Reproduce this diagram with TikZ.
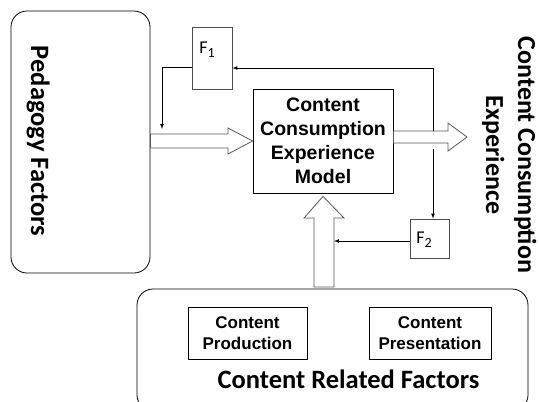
\documentclass[tikz,border=0pt]{standalone}
\usepackage{fontspec}
\setmainfont{Liberation Sans}
\newfontfamily\calibri{Carlito}
\usepackage{tikz}
\newcommand{\fsub}[1]{\raisebox{-4pt}{\fontsize{14}{14}\selectfont #1}}

\begin{document}
\begin{tikzpicture}[x=1pt,y=-1pt,>=latex,line width=0.7pt,
	factor/.style={draw,rounded corners=16pt,line width=0.8pt},
	modelbox/.style={draw,line width=0.8pt,align=center,font=\fontsize{19.5}{24}\selectfont\bfseries},
	subbox/.style={draw,line width=0.8pt,align=center,font=\fontsize{17}{21}\selectfont\bfseries},
	fbox/.style={draw=black!70,line width=0.8pt},
	flabel/.style={inner sep=0pt,font=\calibri\fontsize{18}{20}\selectfont},
	biglabel/.style={inner sep=0pt,font=\calibri\fontsize{26.5}{32}\selectfont\bfseries},
	hollow/.style={draw=black!65,fill=white,line width=0.8pt,line join=miter}]
	\clip (0,0) rectangle (539,402);
	\node[factor, minimum width=139pt, minimum height=262pt] (ped) at (80.5,142) {};
	\node[biglabel, rotate=-90, anchor=base] at (31,141) {Pedagogy Factors};
	\node[factor, minimum width=391pt, minimum height=122pt] (crf) at (332.5,350) {};
	\node[subbox, minimum width=119pt, minimum height=52pt] (prod) at (247.5,333) {Content\\Production};
	\node[subbox, minimum width=122pt, minimum height=52pt] (pres) at (430,333) {Content\\Presentation};
	\node[biglabel, anchor=base] at (348.5,388) {Content Related Factors};
	\node[modelbox, minimum width=140pt, minimum height=104pt] (model) at (323,141) {Content\\Consumption\\Experience\\Model};
	\node[fbox, minimum width=40pt, minimum height=62pt] (f1) at (212,58) {};
	\node[flabel, anchor=base west] at (199,53) {F\fsub{1}};
	\node[fbox, minimum width=39pt, minimum height=39pt] (f2) at (429.5,238.5) {};
	\node[flabel, anchor=base west] at (416,243) {F\fsub{2}};
	\node[biglabel, rotate=-90, anchor=base, font=\calibri\fontsize{26}{32}\selectfont\bfseries] at (518,155) {Content Consumption};
	\node[biglabel, rotate=-90, anchor=base, font=\calibri\fontsize{26}{32}\selectfont\bfseries] at (486,155) {Experience};
	% hollow arrows
	\coordinate (cce) at (467,137);
	\coordinate (upin) at ([yshift=-3pt]model.south);
	\draw[hollow] (ped.east |- 0,134) -- (228,134) -- (228,128) -- (model.west)
		-- (228,154) -- (228,148) -- (ped.east |- 0,148) -- cycle;
	\draw[hollow] (model.east |- 0,131) -- (448,131) -- (448,123) -- (cce)
		-- (448,151) -- (448,143) -- (model.east |- 0,143) -- cycle;
	\draw[hollow] (314,287) -- (314,218) -- (304,218) -- (upin)
		-- (344,218) -- (334,218) -- (334,287) -- cycle;
	% feedback
	\coordinate (tap1) at (433,131);
	\coordinate (tap2) at (433,149);
	\coordinate (pedtap) at (162,129);
	\coordinate (uptap) at (334,241);
	\draw[->] (tap1) |- ([yshift=-10pt]f1.east);
	\draw[->] ([yshift=-9pt]f1.west) -| (pedtap);
	\draw[->] (tap2) -- (tap2 |- f2.north);
	\draw[->] ([yshift=-2.5pt]f2.west) -- (uptap);
\end{tikzpicture}
\end{document}
